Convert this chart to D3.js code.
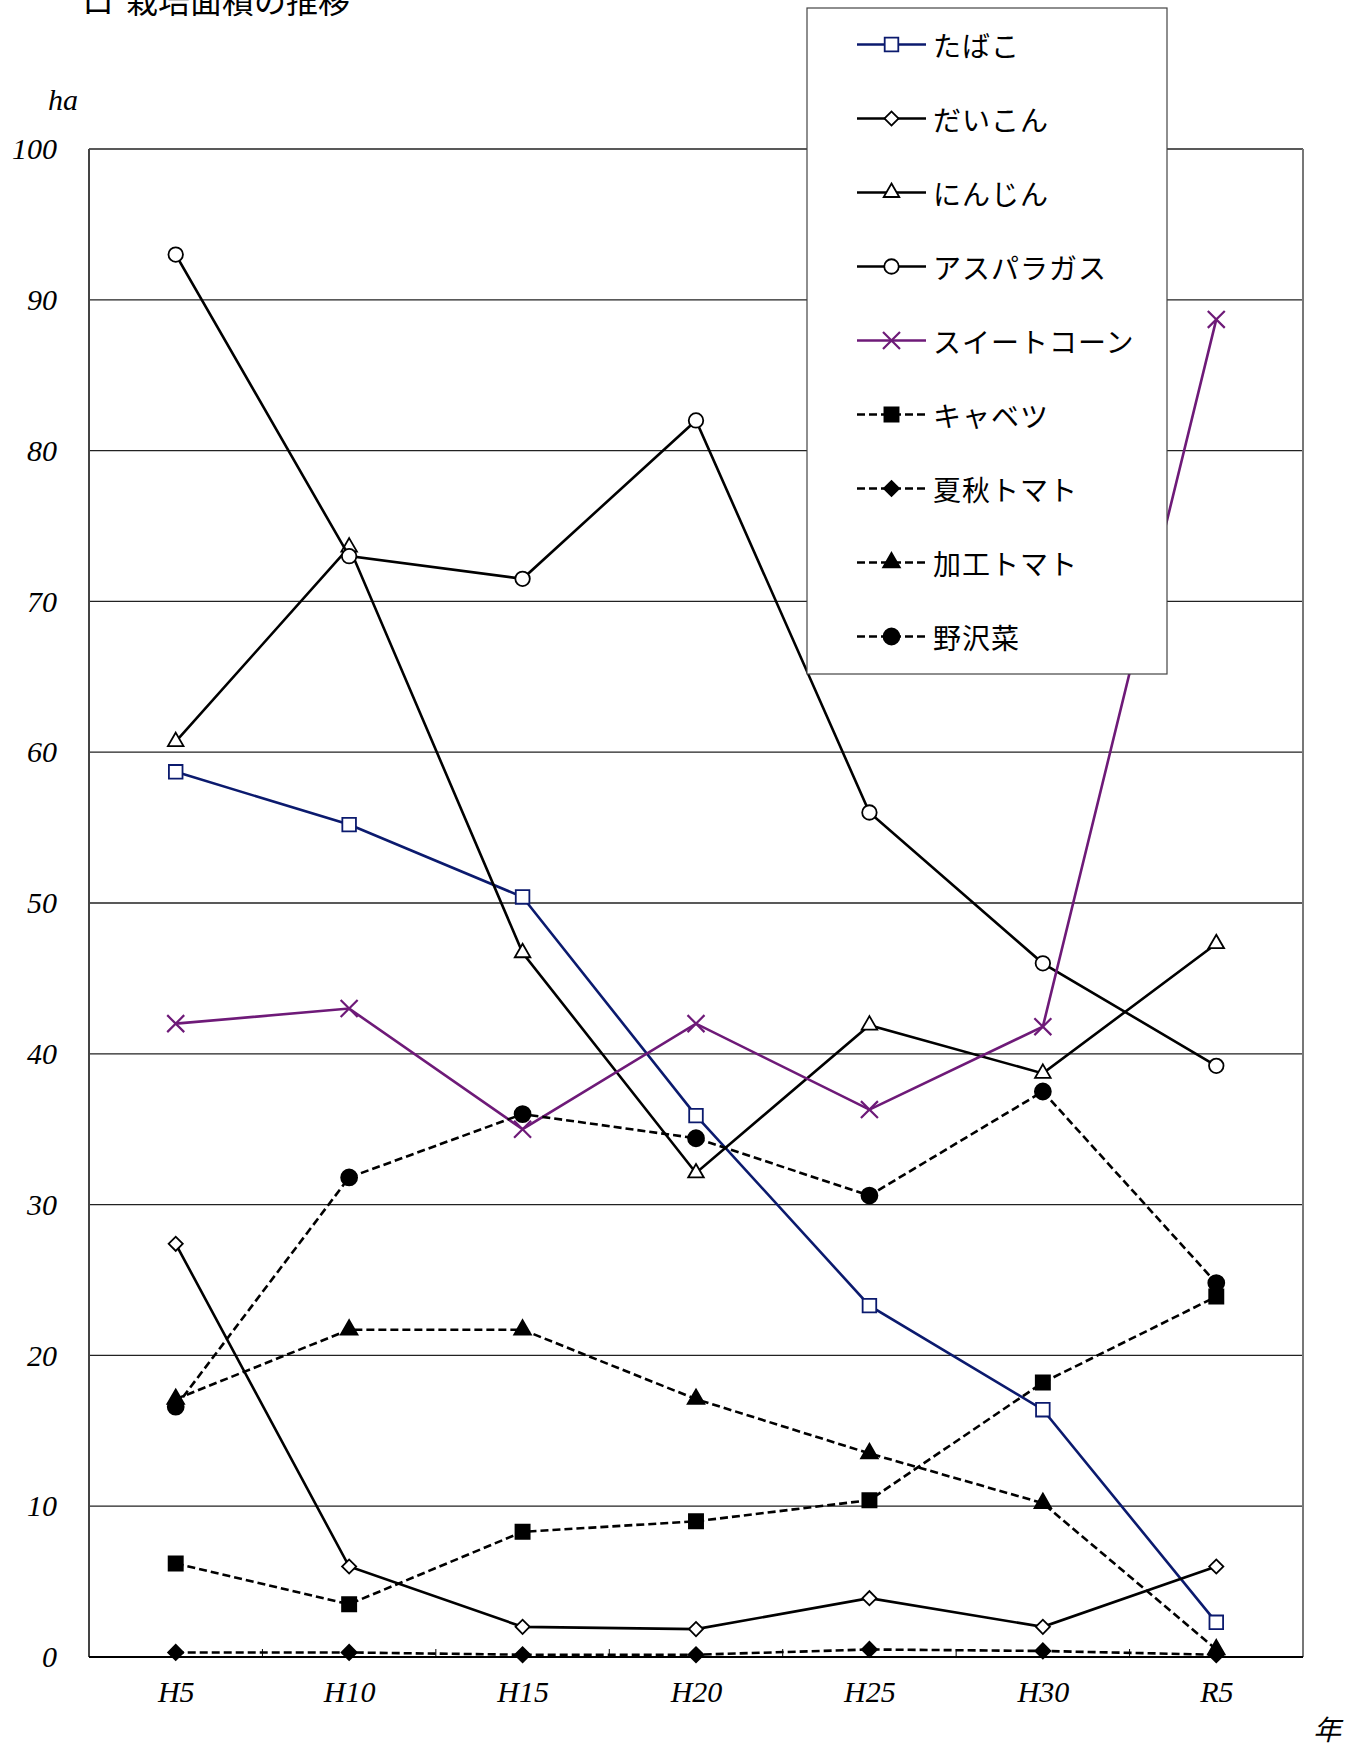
<!DOCTYPE html>
<html>
<head>
<meta charset="utf-8">
<script src="https://cdn.jsdelivr.net/npm/d3@7"></script>
<style>
  body { margin: 0; background: #fff; }
  .num { font-family: "Liberation Serif", "DejaVu Serif", serif; font-style: italic; font-size: 30px; fill: #000; }
  .jp { font-family: "Noto Sans CJK JP", sans-serif; fill: #000; }
</style>
</head>
<body>
<svg id="chart"></svg>
<script>
// values (ha)
const years = ["H5", "H10", "H15", "H20", "H25", "H30", "R5"]
const yTicks = [0, 10, 20, 30, 40, 50, 60, 70, 80, 90, 100]

const tabako = [58.7, 55.2, 50.4, 35.9, 23.3, 16.4, 2.3]
const daikon = [27.4, 6.0, 2.0, 1.85, 3.9, 2.0, 6.0]
const ninjin = [60.7, 73.6, 46.7, 32.1, 41.9, 38.7, 47.3]
const asparagus = [93.0, 73.0, 71.5, 82.0, 56.0, 46.0, 39.2]
const sweetcorn = [42.0, 43.0, 35.0, 42.0, 36.3, 41.8, 88.7]
const cabbage = [6.2, 3.5, 8.3, 9.0, 10.4, 18.2, 23.9]
const kashuTomato = [0.3, 0.3, 0.15, 0.15, 0.5, 0.4, 0.15]
const kakoTomato = [17.1, 21.7, 21.7, 17.1, 13.5, 10.2, 0.5]
const nozawana = [16.6, 31.8, 36.0, 34.4, 30.6, 37.5, 24.8]

const NAVY = "#0b1a6e"
const PURPLE = "#6e1a78"
const DASH = "8,4"

const series = [
    { name: "たばこ", values: tabako, color: NAVY, dash: null, marker: "square", fill: false },
    { name: "だいこん", values: daikon, color: "#000", dash: null, marker: "diamond", fill: false },
    { name: "にんじん", values: ninjin, color: "#000", dash: null, marker: "triangle", fill: false },
    { name: "アスパラガス", values: asparagus, color: "#000", dash: null, marker: "circle", fill: false },
    { name: "スイートコーン", values: sweetcorn, color: PURPLE, dash: null, marker: "x", fill: false },
    { name: "キャベツ", values: cabbage, color: "#000", dash: DASH, marker: "square", fill: true },
    { name: "夏秋トマト", values: kashuTomato, color: "#000", dash: DASH, marker: "diamond", fill: true },
    { name: "加工トマト", values: kakoTomato, color: "#000", dash: DASH, marker: "triangle", fill: true },
    { name: "野沢菜", values: nozawana, color: "#000", dash: DASH, marker: "circle", fill: true }
]

const W = 1361, H = 1747
const plot = { left: 89, right: 1303, top: 149, bottom: 1657 }

const svg = d3.select("#chart").attr("width", W).attr("height", H)

const x = d3.scalePoint().domain(years).range([plot.left, plot.right]).padding(0.5)
const y = d3.scaleLinear().domain([0, 100]).range([plot.bottom, plot.top])

// title (cut off at the top of the page, as in the original)
svg.append("text").attr("class", "jp").attr("x", 82).attr("y", 13)
    .style("font-size", "32px").text("ロ")
svg.append("text").attr("class", "jp").attr("x", 126).attr("y", 13)
    .style("font-size", "32px").text("栽培面積の推移")

// gridlines
svg.append("g")
    .selectAll("line")
    .data(yTicks.filter(d => d > 0))
    .join("line")
        .attr("x1", plot.left).attr("x2", plot.right)
        .attr("y1", d => y(d)).attr("y2", d => y(d))
        .attr("stroke", "#222").attr("stroke-width", 1.3)

// frame
svg.append("line").attr("x1", plot.left).attr("x2", plot.left)
    .attr("y1", plot.top).attr("y2", plot.bottom).attr("stroke", "#444").attr("stroke-width", 2)
svg.append("line").attr("x1", plot.right).attr("x2", plot.right)
    .attr("y1", plot.top).attr("y2", plot.bottom).attr("stroke", "#777").attr("stroke-width", 2)

// y axis labels
const yAxis = d3.axisLeft(y).tickValues(yTicks).tickSize(0).tickPadding(32).tickFormat(d3.format("d"))
const yAxisGroup = svg.append("g").attr("transform", `translate(${plot.left},0)`).call(yAxis)
yAxisGroup.select(".domain").remove()
yAxisGroup.selectAll("text").attr("class", "num").attr("font-family", null).attr("font-size", null)

// x axis
const xAxis = d3.axisBottom(x).tickSize(0).tickPadding(24)
const xAxisGroup = svg.append("g").attr("transform", `translate(0,${plot.bottom})`).call(xAxis)
xAxisGroup.select(".domain").attr("stroke", "#000").attr("stroke-width", 2)
    .attr("d", `M${plot.left},0H${plot.right}`)
xAxisGroup.selectAll("text").attr("class", "num").attr("font-family", null).attr("font-size", null)

// small ticks at category boundaries
svg.append("g")
    .selectAll("line")
    .data(years.slice(1))
    .join("line")
        .attr("x1", d => x(d) - x.step() / 2).attr("x2", d => x(d) - x.step() / 2)
        .attr("y1", plot.bottom - 8).attr("y2", plot.bottom)
        .attr("stroke", "#000").attr("stroke-width", 1)

// axis unit labels
svg.append("text").attr("class", "num").attr("x", 48).attr("y", 110).text("ha")
svg.append("text").attr("class", "jp").attr("x", 1327).attr("y", 1740)
    .attr("text-anchor", "middle").style("font-size", "28px").style("font-style", "italic").text("年")

// marker drawing
function drawMarker(g, s, cx, cy) {
    const fill = s.fill ? s.color : "#fff"
    let d
    switch (s.marker) {
        case "square":   d = d3.symbol(d3.symbolSquare, s.fill ? 200 : 185)(); break
        case "diamond":  d = d3.symbol(d3.symbolSquare, s.fill ? 115 : 100)(); break
        case "triangle": d = d3.symbol(d3.symbolTriangle, s.fill ? 120 : 105)(); break
        case "circle":   d = d3.symbol(d3.symbolCircle, s.fill ? 200 : 165)(); break
        case "x":        d = d3.symbol(d3.symbolTimes, 190)(); break
    }
    const rot = s.marker === "diamond" ? " rotate(45)" : ""
    g.append("path")
        .attr("d", d)
        .attr("transform", `translate(${cx},${cy})${rot}`)
        .attr("stroke", s.color)
        .attr("stroke-width", s.marker === "x" ? 2.2 : 1.8)
        .attr("fill", s.marker === "x" ? "none" : fill)
}

const line = d3.line()
    .x((d, i) => x(years[i]))
    .y(d => y(d))

const seriesGroup = svg.append("g")
series.forEach(s => {
    const g = seriesGroup.append("g")
    g.append("path")
        .datum(s.values)
        .attr("d", line)
        .attr("fill", "none")
        .attr("stroke", s.color)
        .attr("stroke-width", 2.6)
        .attr("stroke-dasharray", s.dash)
    s.values.forEach((v, i) => drawMarker(g, s, x(years[i]), y(v)))
})

// legend
const legend = { x: 807, y: 8, w: 360, h: 666, row0: 44.5, rowStep: 74 }
const lg = svg.append("g")
lg.append("rect")
    .attr("x", legend.x).attr("y", legend.y)
    .attr("width", legend.w).attr("height", legend.h)
    .attr("fill", "#fff").attr("stroke", "#444").attr("stroke-width", 1.2)

series.forEach((s, i) => {
    const cy = legend.row0 + i * legend.rowStep
    const g = lg.append("g")
    g.append("line")
        .attr("x1", 857).attr("x2", 926)
        .attr("y1", cy).attr("y2", cy)
        .attr("stroke", s.color).attr("stroke-width", 2.4)
        .attr("stroke-dasharray", s.dash)
    drawMarker(g, s, 891.5, cy)
    g.append("text").attr("class", "jp")
        .attr("x", 933).attr("y", cy)
        .attr("dominant-baseline", "central")
        .style("font-size", "28px")
        .style("letter-spacing", "1px")
        .text(s.name)
})
</script>
</body>
</html>
